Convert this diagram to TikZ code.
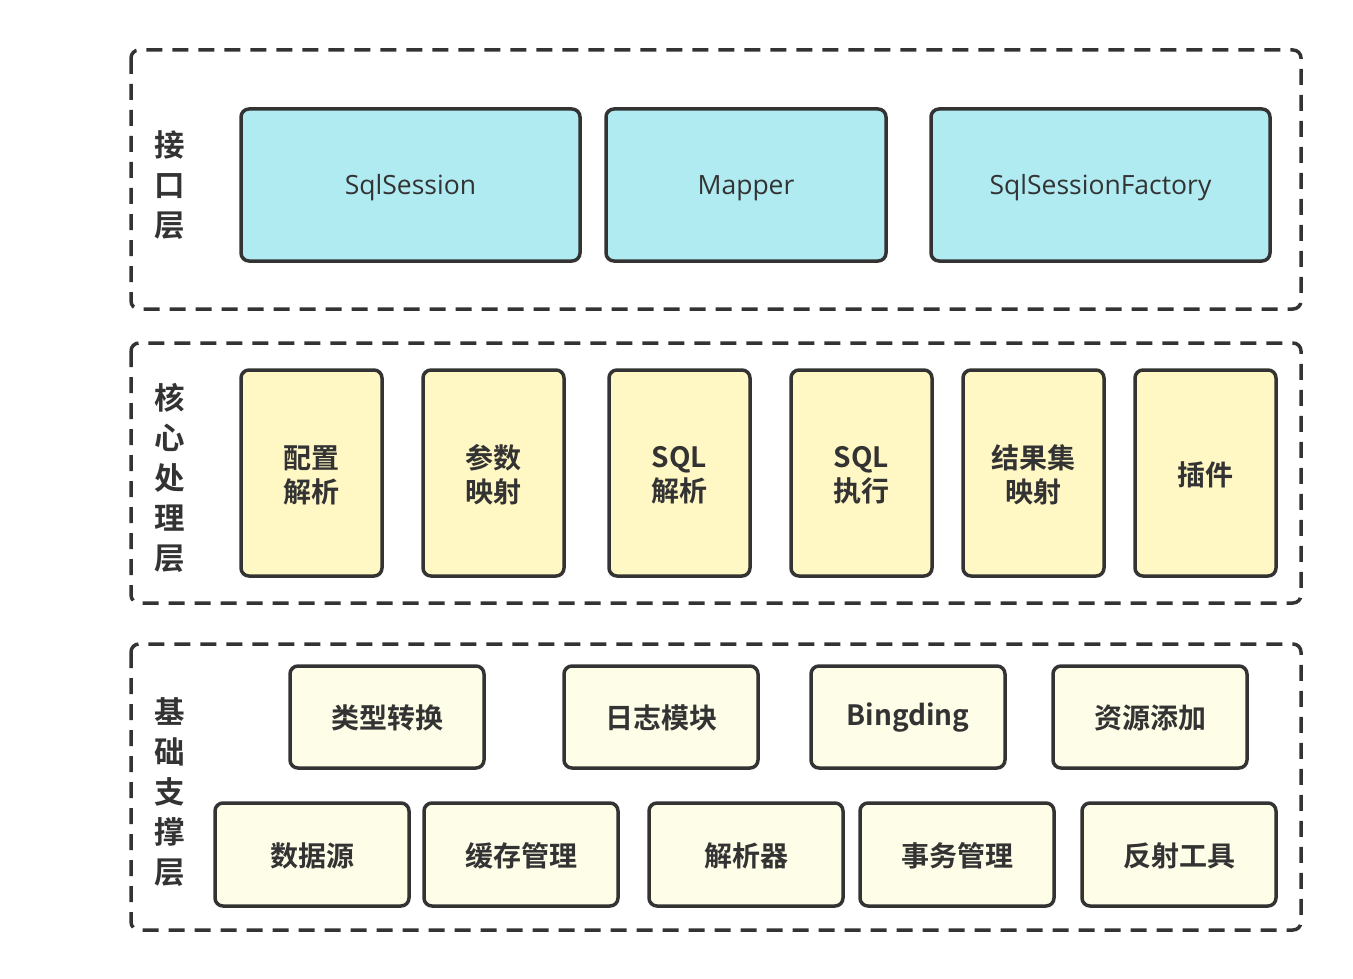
\documentclass[tikz,border=0pt]{standalone}
\usepackage{fontspec}
\newfontfamily\cjkb[BoldFont={Noto Sans CJK SC Bold}]{Noto Sans CJK SC}
\newfontfamily\latin{Open Sans}
\definecolor{strk}{HTML}{333333}
\definecolor{bluef}{HTML}{B0EBF2}
\definecolor{yelf}{HTML}{FFF7C4}
\definecolor{palef}{HTML}{FEFDE8}
\tikzset{
  layer/.style={draw=strk,line width=3.5pt,dash pattern=on 16pt off 10pt,rounded corners=8pt},
  box/.style={draw=strk,line width=3.5pt,rounded corners=8pt,inner sep=0pt,outer sep=0pt,anchor=north west},
  ifbox/.style={box,fill=bluef},
  corebox/.style={box,fill=yelf},
  basebox/.style={box,fill=palef},
  lbl/.style={font=\cjkb\bfseries\fontsize{30.5}{40}\selectfont,text=strk,align=center},
  iftxt/.style={font=\latin\fontsize{26.5}{30}\selectfont,text=strk},
  cntxt/.style={font=\cjkb\bfseries\fontsize{28}{34}\selectfont,text=strk,align=center}
}
\begin{document}
\begin{tikzpicture}[x=1pt,y=-1pt]
\useasboundingbox (0,0) rectangle (1353,979);
% layers
\draw[layer] (131,50) rectangle (1301,309);
\draw[layer] (131,343) rectangle (1301,603);
\draw[layer] (131,644) rectangle (1301,930);
\node[lbl] (L1) at (170,185) {接\\口\\层};
\node[lbl] (L2) at (170,478) {核\\心\\处\\理\\层};
\node[lbl] (L3) at (170,792) {基\\础\\支\\撑\\层};
% interface
\node[ifbox,minimum width=339pt,minimum height=152pt] (s1) at (241,109) {};
\node[iftxt] (s1t) at ([yshift=-3pt]s1.center) {SqlSession};
\node[ifbox,minimum width=280pt,minimum height=152pt] (s2) at (606,109) {};
\node[iftxt] (s2t) at ([yshift=-3pt]s2.center) {Mapper};
\node[ifbox,minimum width=339pt,minimum height=152pt] (s3) at (931,109) {};
\node[iftxt] (s3t) at ([yshift=-3pt]s3.center) {SqlSessionFactory};
% core
\foreach \x/\t [count=\i] in {241/{配置\\解析},423/{参数\\映射},609/{SQL\\解析},791/{SQL\\执行},963/{结果集\\映射},1135/{插件}}{
  \node[corebox,minimum width=141pt,minimum height=206pt] (c\i) at (\x,370) {};
  \node[cntxt] (c\i t) at ([yshift=-2pt]c\i.center) {\t};
}
% base top row
\foreach \x/\t [count=\i] in {290/类型转换,564/日志模块,811/Bingding,1053/资源添加}{
  \node[basebox,minimum width=194pt,minimum height=102pt] (t\i) at (\x,666) {};
  \node[cntxt] (t\i t) at ([yshift=-1pt]t\i.center) {\t};
}
\foreach \x/\t [count=\i] in {215/数据源,424/缓存管理,649/解析器,860/事务管理,1082/反射工具}{
  \node[basebox,minimum width=194pt,minimum height=103pt] (b\i) at (\x,803) {};
  \node[cntxt] (b\i t) at ([yshift=-1pt]b\i.center) {\t};
}
\end{tikzpicture}
\end{document}
